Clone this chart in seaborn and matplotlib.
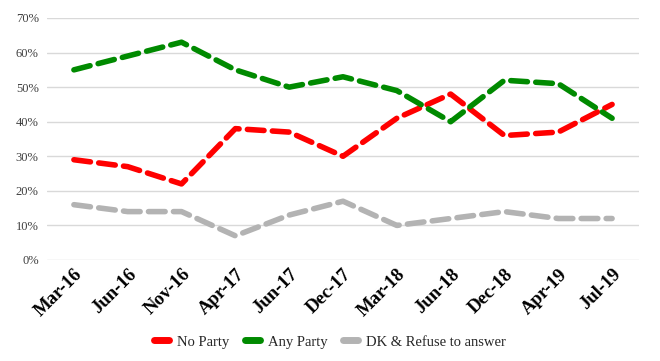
import matplotlib
matplotlib.use("Agg")
import matplotlib.pyplot as plt
import seaborn as sns
import pandas as pd
from matplotlib.ticker import PercentFormatter
from matplotlib.lines import Line2D

dates = ["Mar-16", "Jun-16", "Nov-16", "Apr-17", "Jun-17", "Dec-17",
         "Mar-18", "Jun-18", "Dec-18", "Apr-19", "Jul-19"]
no_party = [29, 27, 22, 38, 37, 30, 41, 48, 36, 37, 45]
any_party = [55, 59, 63, 55, 50, 53, 49, 40, 52, 51, 41]
dk_refuse = [16, 14, 14, 7, 13, 17, 10, 12, 14, 12, 12]
series_names = ["No Party", "Any Party", "DK & Refuse to answer"]
colors = ["#FF0000", "#008A00", "#B3B3B3"]

rows = []
for name, vals in zip(series_names, [no_party, any_party, dk_refuse]):
    for i, (d, v) in enumerate(zip(dates, vals)):
        rows.append({"idx": i, "date": d, "value": v, "series": name})
df = pd.DataFrame(rows)

sns.set_theme(style="white")
plt.rcParams["font.family"] = ["Liberation Serif", "DejaVu Serif"]

fig = plt.figure(figsize=(6.6, 3.61), dpi=100)
ax = fig.add_axes([47/660, 1 - 260/361, (639-47)/660, (260-18)/361])

sns.lineplot(data=df, x="idx", y="value", hue="series", palette=colors,
             hue_order=series_names, ax=ax, linewidth=4, legend=False)
for line in ax.get_lines():
    line.set_dashes([3, 1.5])
    line.set_dash_capstyle("round")
    line.set_solid_capstyle("round")

ax.set_xlim(-0.5, len(dates) - 0.5)
ax.set_ylim(0, 70)
ax.set_yticks(range(0, 71, 10))
ax.yaxis.set_major_formatter(PercentFormatter(decimals=0))
ax.set_xticks(range(len(dates)))
ax.set_xticklabels(dates, rotation=45, ha="right", rotation_mode="anchor",
                   fontsize=13.5, fontweight="bold", family="Liberation Serif")
ax.tick_params(axis="y", labelsize=9, colors="#404040", length=0, pad=6)
ax.tick_params(axis="x", length=0, pad=4, colors="black")
ax.grid(axis="y", color="#D9D9D9", linewidth=1)
ax.set_axisbelow(True)
for s in ax.spines.values():
    s.set_visible(False)
ax.set_xlabel("")
ax.set_ylabel("")

handles = [Line2D([0], [0], color=c, linewidth=5, solid_capstyle="round") for c in colors]
fig.legend(handles, series_names, loc="center", bbox_to_anchor=(0.5, 1 - 342/361),
           ncol=3, frameon=False, prop={"family": "Liberation Serif", "size": 10.5},
           handlelength=1.0, columnspacing=1.1, handletextpad=0.55)

fig.savefig("out.png", dpi=100)
